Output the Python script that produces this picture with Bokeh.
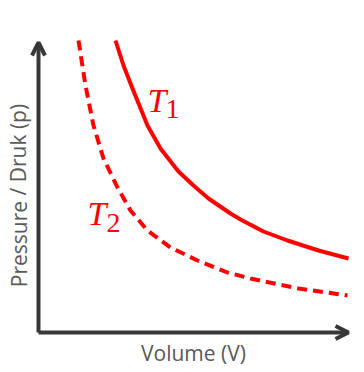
from bokeh.plotting import figure
from bokeh.models import Arrow, OpenHead, Label, Range1d
from bokeh.embed import file_html
from bokeh.resources import INLINE

# Isotherm readings (volume, pressure) in arbitrary units
t1_volume = [77, 85, 94, 109, 122, 140, 155, 170, 192, 202, 225, 249, 280, 310]
t1_pressure = [292, 267, 244, 207, 184, 161, 147, 134, 119, 113, 101, 92, 82, 74]
t2_volume = [40, 47, 55, 65, 79, 92, 109, 132, 159, 189, 212, 260, 309]
t2_pressure = [292, 247, 207, 174, 145, 122, 102, 85, 72, 60, 54, 44, 37]

x_label = "Volume (V)"
y_label = "Pressure / Druk (p)"
curve_names = ["T", "T"]
curve_subs = ["1", "2"]

RED = "#FF0000"
AXIS = "#383838"
GREY = "#595959"

p = figure(width=364, height=372, output_backend="svg", toolbar_location=None,
           x_range=Range1d(-38, 326), y_range=Range1d(-40, 332),
           min_border=0, min_border_left=0, min_border_right=0,
           min_border_top=0, min_border_bottom=0)
p.axis.visible = False
p.grid.visible = False
p.outline_line_color = None
p.background_fill_color = "white"
p.border_fill_color = "white"

p.line(t1_volume, t1_pressure, line_color=RED, line_width=4, line_join="round")
p.line(t2_volume, t2_pressure, line_color=RED, line_width=4, line_dash="10 6")

# axes with arrow heads
p.add_layout(Arrow(end=OpenHead(size=13, line_color=AXIS, line_width=4),
                   x_start=0, y_start=0, x_end=310, y_end=0,
                   line_color=AXIS, line_width=4))
p.add_layout(Arrow(end=OpenHead(size=13, line_color=AXIS, line_width=4),
                   x_start=0, y_start=0, x_end=0, y_end=290,
                   line_color=AXIS, line_width=4))

p.add_layout(Label(x=155, y=-20, text=x_label, text_font="Open Sans",
                   text_font_size="21px", text_color=GREY,
                   text_align="center", text_baseline="middle"))
p.add_layout(Label(x=-20, y=137, text=y_label, text_font="Open Sans",
                   text_font_size="21px", text_color=GREY, angle=1.5708,
                   text_align="center", text_baseline="middle"))

# curve labels
p.add_layout(Label(x=109, y=232, text=curve_names[0], text_font="Liberation Serif",
                   text_font_style="italic", text_font_size="34px", text_color=RED,
                   text_align="left", text_baseline="alphabetic"))
p.add_layout(Label(x=127, y=224, text=curve_subs[0], text_font="Liberation Serif",
                   text_font_size="28px", text_color=RED,
                   text_align="left", text_baseline="alphabetic"))
p.add_layout(Label(x=49, y=119, text=curve_names[1], text_font="Liberation Serif",
                   text_font_style="italic", text_font_size="34px", text_color=RED,
                   text_align="left", text_baseline="alphabetic"))
p.add_layout(Label(x=68, y=110, text=curve_subs[1], text_font="Liberation Serif",
                   text_font_size="28px", text_color=RED,
                   text_align="left", text_baseline="alphabetic"))

open("out.html", "w").write(file_html(p, INLINE))
